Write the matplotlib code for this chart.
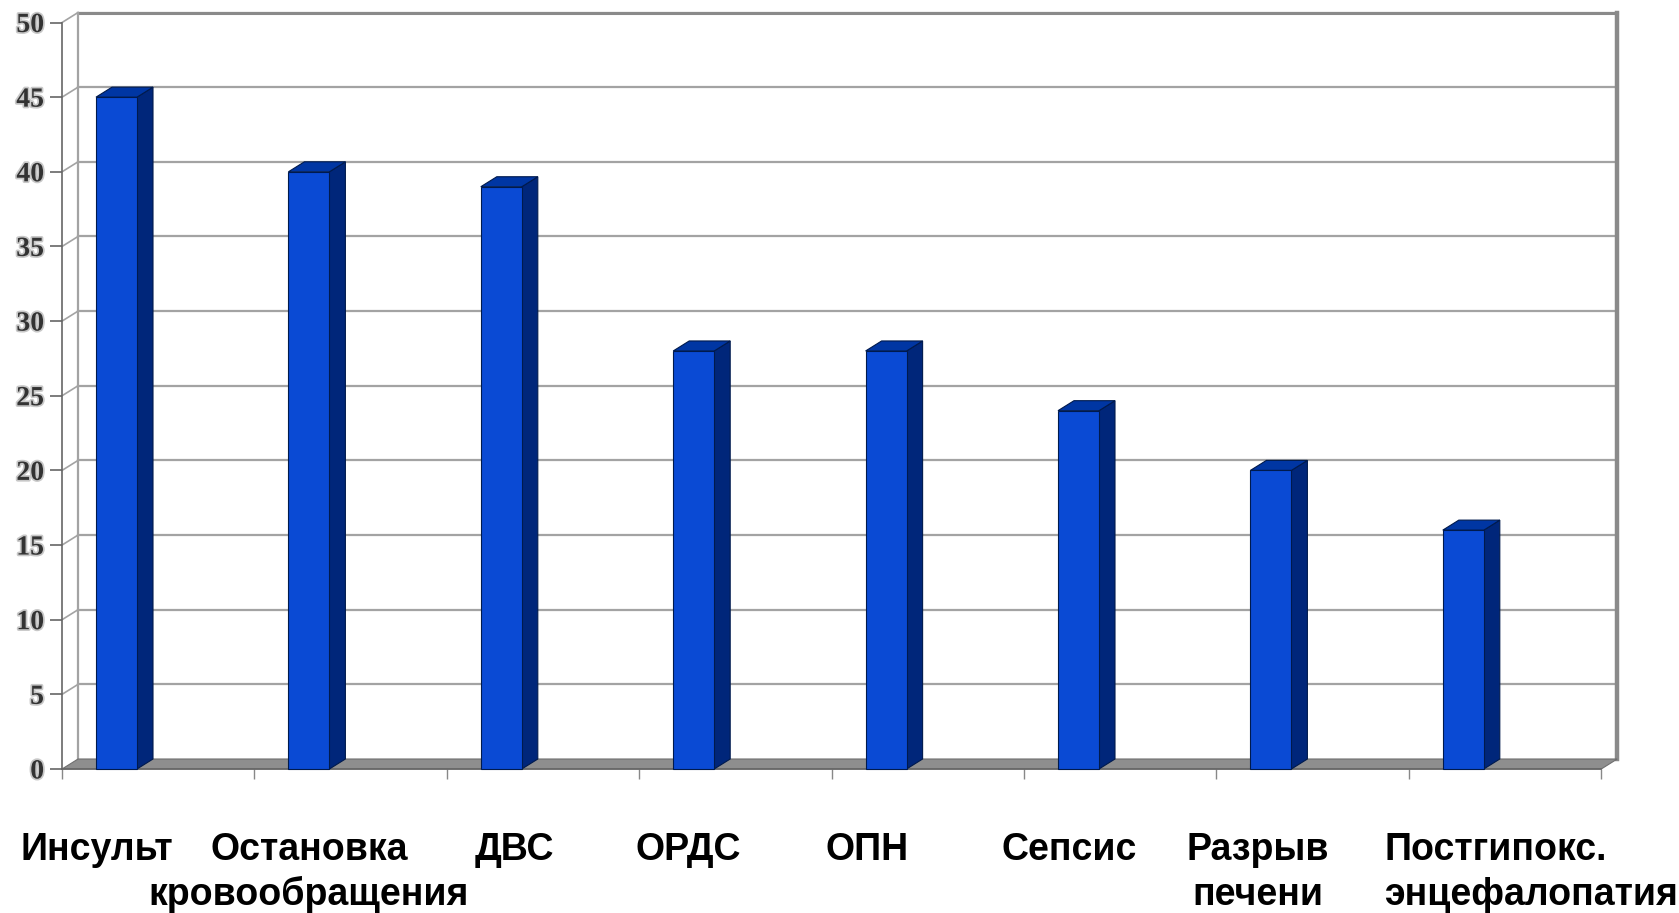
import numpy as np
import matplotlib.pyplot as plt
from matplotlib.patches import Polygon
import matplotlib.patheffects as pe

# Data
categories = ['Инсульт', 'Остановка\nкровообращения', 'ДВС', 'ОРДС', 'ОПН',
              'Сепсис', 'Разрыв\nпечени', 'Постгипокс.\nэнцефалопатия']
values = [45, 40, 39, 28, 28, 24, 20, 16]
y_ticks = list(range(0, 51, 5))

# Where each category label sits relative to its bar
label_shift = [-0.10, 0.0, 0.07, -0.03, -0.10, -0.05, -0.07, -0.41]
label_align = ['center'] * 7 + ['left']

# Colours
front_col = '#0a4ad4'
side_col = '#00267a'
top_col = '#0036a3'
grid_col = '#a3a3a3'
edge_col = '#8a8a8a'

W, H = 1679, 913
fig = plt.figure(figsize=(W / 100, H / 100), dpi=100)

# Pixel geometry: px per category, px per value unit, first bar centre, zero line
ux, uy = 192.4, 14.93
x0px, y0px = 116.5, 769
ax_l, ax_r, ax_t, ax_b = 40, 1650, 0, 800
ax = fig.add_axes([ax_l / W, 1 - ax_b / H, (ax_r - ax_l) / W, (ax_b - ax_t) / H])
ax.set_xlim((ax_l - x0px) / ux, (ax_r - x0px) / ux)
ax.set_ylim((y0px - ax_b) / uy, (y0px - ax_t) / uy)

# 3D depth offset and bar width in data units
dx, dy = 16 / ux, 10 / uy
bw = 41 / ux
n = len(values)
xl, xr = -0.283, n - 0.283
ymax = y_ticks[-1]

# Back wall and side wall grid
for t in y_ticks[1:]:
    ax.plot([xl + dx, xr + dx], [t + dy, t + dy], color=grid_col, lw=1.6, zorder=1)
    ax.plot([xl, xl + dx], [t, t + dy], color=grid_col, lw=1.2, zorder=1)
ax.plot([xl + dx, xr + dx], [ymax + dy, ymax + dy], color=edge_col, lw=2.2, zorder=1)
ax.plot([xl + dx, xl + dx], [dy, ymax + dy], color=grid_col, lw=1.6, zorder=1)
ax.plot([xr + dx, xr + dx], [dy, ymax + dy], color=edge_col, lw=3.2, zorder=1)

# Floor
floor = Polygon([(xl, 0), (xr, 0), (xr + dx, dy), (xl + dx, dy)],
                closed=True, fc='#8e8e8e', ec='#6f6f6f', lw=0.8, zorder=2)
ax.add_patch(floor)

# Bars with side and top faces
x = np.arange(n)
ax.bar(x, values, width=bw, color=front_col, edgecolor='#001a4d', lw=0.8, zorder=4)
for xi, v in zip(x, values):
    left, right = xi - bw / 2, xi + bw / 2
    side = Polygon([(right, 0), (right + dx, dy), (right + dx, v + dy), (right, v)],
                   closed=True, fc=side_col, ec='#001a4d', lw=0.8, zorder=3)
    top = Polygon([(left, v), (left + dx, v + dy), (right + dx, v + dy), (right, v)],
                  closed=True, fc=top_col, ec='#001a4d', lw=0.8, zorder=3)
    ax.add_patch(side)
    ax.add_patch(top)

# Axes lines and ticks
for s in ['top', 'right']:
    ax.spines[s].set_visible(False)
ax.spines['left'].set_position(('data', xl))
ax.spines['left'].set_bounds(0, ymax)
ax.spines['left'].set_color('#666666')
ax.spines['left'].set_linewidth(1.2)
ax.spines['bottom'].set_position(('data', 0))
ax.spines['bottom'].set_bounds(xl, xr)
ax.spines['bottom'].set_color('#666666')
ax.spines['bottom'].set_linewidth(1.2)

ax.set_yticks(y_ticks)
ax.set_yticklabels([str(t) for t in y_ticks], fontfamily='Liberation Serif',
                   fontweight='bold', fontsize=20, color='#333333')
for lbl in ax.get_yticklabels():
    lbl.set_path_effects([pe.withStroke(linewidth=2.5, foreground='#c8c8c8')])
ax.tick_params(axis='y', length=9, width=1.2, color='#666666', pad=4)

ax.set_xticks(np.arange(n + 1) + xl)
ax.set_xticklabels([])
ax.tick_params(axis='x', length=7, width=1.0, color='#888888')

# Category labels, one text per line so the first lines share a baseline
line_step = 45 / uy
for xi, cat, sh, ha in zip(x, categories, label_shift, label_align):
    for k, line in enumerate(cat.split('\n')):
        ax.text(xi + sh, -6.1 - k * line_step, line, ha=ha, va='baseline',
                fontsize=27, fontweight='bold', fontfamily='Liberation Sans',
                color='black')

fig.savefig('out.png', dpi=100, facecolor='white')
